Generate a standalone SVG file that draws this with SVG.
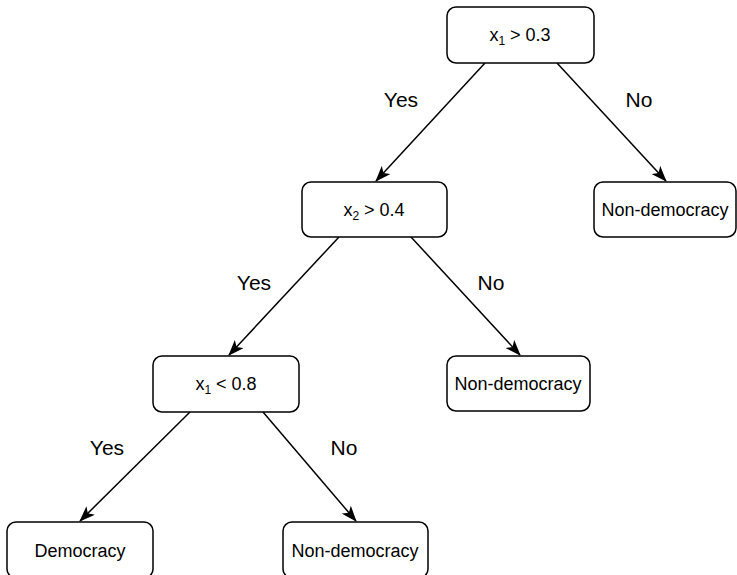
<svg xmlns="http://www.w3.org/2000/svg" width="737" height="575" viewBox="0 0 737 575">
<defs>
<marker id="arr" viewBox="0 0 16 12" refX="15" refY="6" markerWidth="16" markerHeight="12" markerUnits="userSpaceOnUse" orient="auto">
<path d="M0,0 L16,6 L0,12 L4,6 Z" fill="#000"/>
</marker>
<style>
.box{fill:#fff;stroke:#000;stroke-width:1.5}
.t{font-family:"Liberation Sans",Arial,sans-serif;font-size:18px;text-anchor:middle;fill:#000}
.s{font-size:12px}
.lbl{font-family:"Liberation Sans",Arial,sans-serif;font-size:21px;text-anchor:middle;fill:#000}
.e{stroke:#000;stroke-width:1.5;fill:none;marker-end:url(#arr)}
</style>
</defs>
<g id="connectors">
<line class="e" x1="485" y1="63" x2="376" y2="181"/>
<line class="e" x1="557" y1="63" x2="666" y2="181"/>
<line class="e" x1="339" y1="237" x2="229" y2="355"/>
<line class="e" x1="411" y1="237" x2="520" y2="355"/>
<line class="e" x1="190" y1="412" x2="80" y2="521"/>
<line class="e" x1="263" y1="412" x2="356" y2="521"/>
<text class="lbl" x="401" y="107">Yes</text>
<text class="lbl" x="639" y="107">No</text>
<text class="lbl" x="254" y="290">Yes</text>
<text class="lbl" x="491" y="290">No</text>
<text class="lbl" x="107" y="455">Yes</text>
<text class="lbl" x="344" y="455">No</text>
</g>
<g id="n1"><rect class="box" x="447" y="7" width="147" height="56" rx="9"/><text class="t" x="520" y="41">x<tspan class="s" dy="4">1</tspan><tspan dy="-4"> &gt; 0.3</tspan></text></g>
<g id="n2"><rect class="box" x="302" y="182" width="145" height="55" rx="9"/><text class="t" x="374" y="216">x<tspan class="s" dy="4">2</tspan><tspan dy="-4"> &gt; 0.4</tspan></text></g>
<g id="n3"><rect class="box" x="594" y="182" width="142" height="55" rx="9"/><text class="t" x="665" y="216">Non-democracy</text></g>
<g id="n4"><rect class="box" x="153" y="356" width="146" height="56" rx="9"/><text class="t" x="226" y="390">x<tspan class="s" dy="4">1</tspan><tspan dy="-4"> &lt; 0.8</tspan></text></g>
<g id="n5"><rect class="box" x="447" y="356" width="143" height="55" rx="9"/><text class="t" x="518" y="390">Non-democracy</text></g>
<g id="n6"><rect class="box" x="7" y="522" width="146" height="56" rx="9"/><text class="t" x="80" y="557">Democracy</text></g>
<g id="n7"><rect class="box" x="283" y="522" width="145" height="56" rx="9"/><text class="t" x="355" y="557">Non-democracy</text></g>
</svg>
